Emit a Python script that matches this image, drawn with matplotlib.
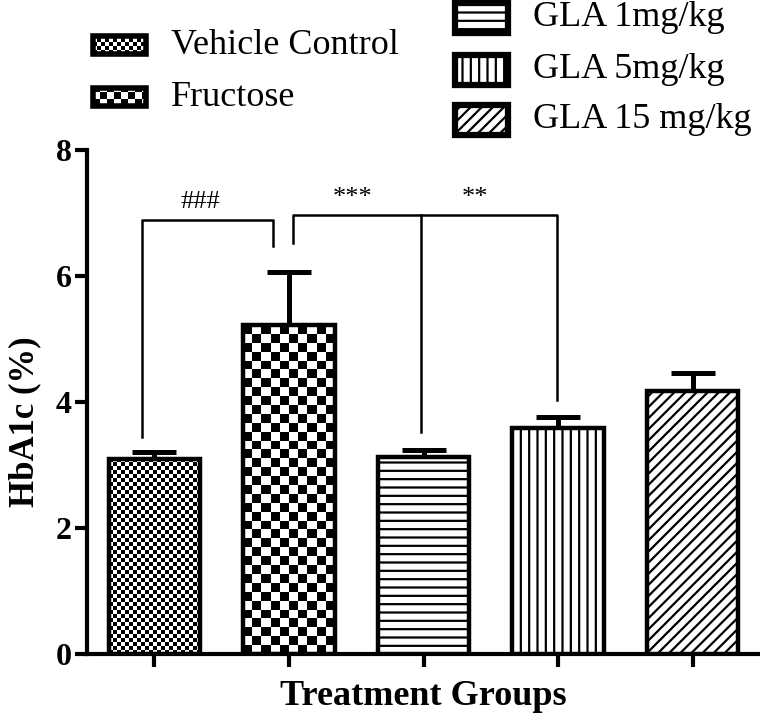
import numpy as np
import matplotlib
matplotlib.use('Agg')
import matplotlib.pyplot as plt
from matplotlib.patches import Rectangle

groups = ['Vehicle Control', 'Fructose', 'GLA 1mg/kg', 'GLA 5mg/kg', 'GLA 15 mg/kg']
hba1c = [3.1, 5.22, 3.12, 3.58, 4.17]
sem = [0.1, 0.84, 0.12, 0.18, 0.29]
y_ticks = [0, 2, 4, 6, 8]
sig_labels = ['###', '***', '**']

plt.rcParams['font.family'] = ['Liberation Serif', 'DejaVu Serif']
plt.rcParams['hatch.linewidth'] = 1.6
plt.rcParams['hatch.color'] = 'black'

W, H = 760, 716
fig = plt.figure(figsize=(W / 100, H / 100), dpi=100)
ax = fig.add_axes([87 / W, 62 / H, 673 / W, 504 / H])

x = np.arange(len(groups))
fills = ['checker4', 'checker9', '--', '||', '///']
bars = ax.bar(x, hba1c, width=0.68, color='white', edgecolor='black', linewidth=3.2, zorder=3)
ax.errorbar(x, hba1c, yerr=[np.zeros(len(sem)), sem], fmt='none', ecolor='black',
            elinewidth=3.6, capsize=16, capthick=3.6, zorder=2)

ax.set_xlim(-0.5, 4.5)
ax.set_ylim(0, 8)

# pixel size of one data unit
px_x = 673 / 5
px_y = 504 / 8
for bar, f in zip(bars, fills):
    if f.startswith('checker'):
        cell = int(f[7:])
        bar.set_facecolor('none')
        ncol = max(1, int(round(bar.get_width() * px_x / cell)))
        nrow = max(1, int(round(bar.get_height() * px_y / cell)))
        board = np.indices((nrow, ncol)).sum(axis=0) % 2
        im = ax.imshow(board, cmap='gray', interpolation='nearest', aspect='auto',
                       extent=(bar.get_x(), bar.get_x() + bar.get_width(), 0, bar.get_height()),
                       zorder=2.5)
        im.set_clip_path(bar)
    else:
        bar.set_hatch(f)

ax.set_xlim(-0.5, 4.5)
ax.set_ylim(0, 8)
ax.set_aspect('auto')

# significance brackets
lw = 1.8
ax.plot([-0.09, -0.09, 0.88, 0.88], [3.44, 6.89, 6.89, 6.48], color='black', lw=lw, zorder=4)
ax.plot([1.03, 1.03, 2.99, 2.99], [6.52, 6.97, 6.97, 4.03], color='black', lw=lw, zorder=4)
ax.plot([1.98, 1.98], [6.97, 3.52], color='black', lw=lw, zorder=4)
ax.text(0.34, 7.0, sig_labels[0], ha='center', va='bottom', fontsize=19)
ax.text(1.47, 7.06, sig_labels[1], ha='center', va='bottom', fontsize=19)
ax.text(2.38, 7.06, sig_labels[2], ha='center', va='bottom', fontsize=19)

for side in ['top', 'right']:
    ax.spines[side].set_visible(False)
for side in ['left', 'bottom']:
    ax.spines[side].set_linewidth(3)

ax.set_xticks(x)
ax.set_xticklabels([''] * len(x))
ax.set_yticks(y_ticks)
ax.tick_params(direction='out', length=9, width=3, labelsize=23, pad=2)
for lbl in ax.get_yticklabels():
    lbl.set_fontweight('bold')

ax.set_xlabel('Treatment Groups', fontsize=26, fontweight='bold', labelpad=8)
ax.set_ylabel('HbA1c (%)', fontsize=25, fontweight='bold')
ax.yaxis.set_label_coords(-0.068, 0.46)

# legend drawn in figure pixels
def fx(px):
    return px / W

def fy(py):
    return 1 - py / H

legend_rows = [(93, 45, 18), (93, 97, 18), (455, 18, 30), (455, 70, 30), (455, 120, 30)]
sw_w = 53
for (lx, ly, sw_h), name, f in zip(legend_rows, groups, fills):
    x0, y0 = fx(lx), fy(ly + sw_h / 2)
    if f.startswith('checker'):
        cell = 4 if f == 'checker4' else 7
        fig.patches.append(Rectangle((x0, y0), sw_w / W, sw_h / H, transform=fig.transFigure,
                                     facecolor='white', edgecolor='none'))
        ncol, nrow = sw_w // cell + 1, sw_h // cell + 1
        for i in range(ncol):
            for j in range(nrow):
                if (i + j) % 2 == 0:
                    cw = min(cell, sw_w - i * cell)
                    ch = min(cell, sw_h - j * cell)
                    if cw > 0 and ch > 0:
                        fig.patches.append(Rectangle((fx(lx + i * cell), y0 + j * cell / H),
                                                     cw / W, ch / H, transform=fig.transFigure,
                                                     facecolor='black', edgecolor='none'))
        fig.patches.append(Rectangle((x0, y0), sw_w / W, sw_h / H, transform=fig.transFigure,
                                     facecolor='none', edgecolor='black', linewidth=4))
    else:
        fig.patches.append(Rectangle((x0, y0), sw_w / W, sw_h / H, transform=fig.transFigure,
                                     facecolor='white', edgecolor='black', linewidth=4.5, hatch=f))
    fig.text(fx(lx + 78), fy(ly), name, fontsize=26, va='center', ha='left')

fig.savefig('out.png', dpi=100)
